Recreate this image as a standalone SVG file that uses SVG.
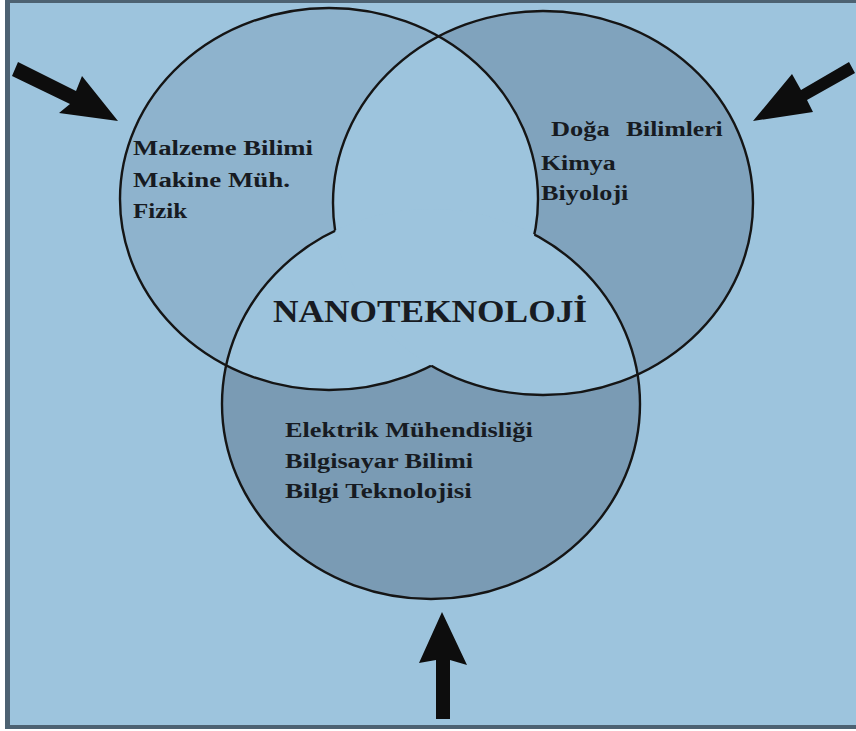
<svg xmlns="http://www.w3.org/2000/svg" width="856" height="731" viewBox="0 0 856 731">
<style>
.lbl{font-family:"Liberation Serif","Times New Roman",serif;font-weight:bold;fill:#171b22;font-size:22px}
.big{font-size:32px}
.ring{fill:none;stroke:#151515;stroke-width:2.4}
.arrow{fill:#0d0d0d}
</style>
<defs>
<clipPath id="cA"><ellipse cx="329" cy="199" rx="209" ry="191"/></clipPath>
<clipPath id="cB"><ellipse cx="543" cy="203" rx="210" ry="192"/></clipPath>
<clipPath id="cC"><ellipse cx="431" cy="404" rx="209" ry="195"/></clipPath>
<mask id="mA" maskUnits="userSpaceOnUse" x="0" y="0" width="856" height="731">
<rect width="856" height="731" fill="#fff"/>
<ellipse cx="431" cy="404" rx="209" ry="195" fill="#000" clip-path="url(#cB)"/>
</mask>
<mask id="mB" maskUnits="userSpaceOnUse" x="0" y="0" width="856" height="731">
<rect width="856" height="731" fill="#fff"/>
<ellipse cx="431" cy="404" rx="209" ry="195" fill="#000" clip-path="url(#cA)"/>
</mask>
<mask id="mC" maskUnits="userSpaceOnUse" x="0" y="0" width="856" height="731">
<rect width="856" height="731" fill="#fff"/>
<ellipse cx="543" cy="203" rx="210" ry="192" fill="#000" clip-path="url(#cA)"/>
</mask>
</defs>
<rect width="856" height="731" fill="#ffffff"/>
<rect x="5" y="0" width="851" height="729" fill="#4d6272"/>
<rect x="10" y="3" width="846" height="722" fill="#9dc4dd"/>
<g id="fills">
<ellipse cx="329" cy="199" rx="209" ry="191" fill="#8eb3cd"/>
<ellipse cx="543" cy="203" rx="210" ry="192" fill="#80a3bd"/>
<ellipse cx="431" cy="404" rx="209" ry="195" fill="#7a9bb4"/>
</g>
<g id="center" fill="#9dc4dd">
<ellipse cx="543" cy="203" rx="210" ry="192" clip-path="url(#cA)"/>
<ellipse cx="431" cy="404" rx="209" ry="195" clip-path="url(#cA)"/>
<ellipse cx="431" cy="404" rx="209" ry="195" clip-path="url(#cB)"/>
</g>
<g id="circle-left">
<ellipse class="ring" cx="329" cy="199" rx="209" ry="191" mask="url(#mA)"/>
<text class="lbl" transform="translate(133,155) scale(1.15,1)" textLength="156.5" lengthAdjust="spacingAndGlyphs">Malzeme Bilimi</text>
<text class="lbl" transform="translate(133,187) scale(1.15,1)" textLength="136.5" lengthAdjust="spacingAndGlyphs">Makine Müh.</text>
<text class="lbl" transform="translate(133,218) scale(1.15,1)" textLength="47" lengthAdjust="spacingAndGlyphs">Fizik</text>
</g>
<g id="circle-right">
<ellipse class="ring" cx="543" cy="203" rx="210" ry="192" mask="url(#mB)"/>
<text class="lbl" transform="translate(551,136) scale(1.15,1)" textLength="51" lengthAdjust="spacingAndGlyphs">Doğa</text>
<text class="lbl" transform="translate(626,136) scale(1.15,1)" textLength="84" lengthAdjust="spacingAndGlyphs">Bilimleri</text>
<text class="lbl" transform="translate(541,170) scale(1.15,1)" textLength="65" lengthAdjust="spacingAndGlyphs">Kimya</text>
<text class="lbl" transform="translate(541,200) scale(1.15,1)" textLength="76" lengthAdjust="spacingAndGlyphs">Biyoloji</text>
</g>
<g id="circle-bottom">
<ellipse class="ring" cx="431" cy="404" rx="209" ry="195" mask="url(#mC)"/>
<text class="lbl" transform="translate(285,437) scale(1.15,1)" textLength="215.5" lengthAdjust="spacingAndGlyphs">Elektrik Mühendisliği</text>
<text class="lbl" transform="translate(285,468) scale(1.15,1)" textLength="163.5" lengthAdjust="spacingAndGlyphs">Bilgisayar Bilimi</text>
<text class="lbl" transform="translate(285,498) scale(1.15,1)" textLength="162.5" lengthAdjust="spacingAndGlyphs">Bilgi Teknolojisi</text>
</g>
<g id="nanotechnology">
<text class="lbl big" transform="translate(273,322) scale(1.1,1)" textLength="285.5" lengthAdjust="spacingAndGlyphs">NANOTEKNOLOJİ</text>
</g>
<g id="connectors">
<polygon class="arrow" points="18,62 76,91 82,76 118,121 59,113 70,104 12,76"/>
<polygon class="arrow" points="849,62 801,90 792,74 753,121 813,112 807,100 855,73"/>
<polygon class="arrow" points="442,612 467,665 450,660 450,719 436,719 436,660 419,663"/>
</g>
</svg>
